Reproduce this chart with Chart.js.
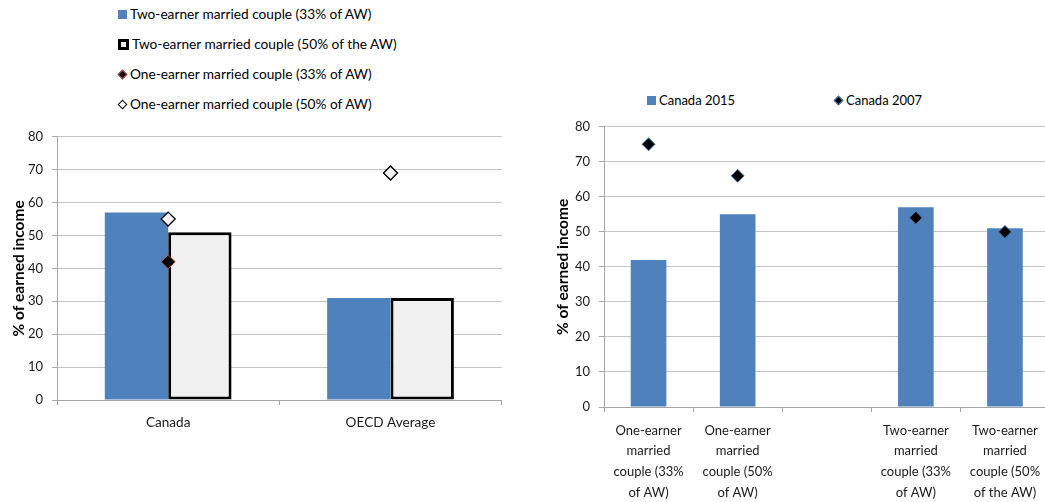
<!DOCTYPE html>
<html>
<head>
<meta charset="utf-8">
<script src="https://cdn.jsdelivr.net/npm/chart.js@4.4.1/dist/chart.umd.min.js"></script>
<style>
  body { margin: 0; width: 1045px; height: 502px; overflow: hidden; position: relative; background: #fff; font-family: Lato, sans-serif; color: #000; }
  canvas { position: absolute; }
  #left { left: 0; top: 120px; }
  #right { left: 540px; top: 110px; }
  .legend-item { position: absolute; white-space: nowrap; font-size: 13px; line-height: 16px; height: 16px; }
  .legend-item.wide { font-size: 13.7px; }
  .mk { display: inline-block; vertical-align: middle; margin-right: 3px; box-sizing: border-box; position: relative; top: -1px; }
  .mk-blue { width: 9px; height: 9px; background: #4f81bd; }
  .mk-outline { width: 11px; height: 11px; background: #f0f0f0; border: 3px solid #000; }
  .mk-dark { width: 7px; height: 7px; background: #000; border: 1px solid #c0504d; transform: rotate(45deg); margin-left: 1px; margin-right: 4px; }
  .mk-light { width: 7px; height: 7px; background: #fff; border: 1.3px solid #000; transform: rotate(45deg); margin-left: 1px; margin-right: 4px; }
  .mk-black { width: 7px; height: 7px; background: #000; border: 1px solid #4f81bd; transform: rotate(45deg); margin-left: 1px; margin-right: 4px; }
</style>
</head>
<body>
<canvas id="left" width="510" height="320"></canvas>
<canvas id="right" width="517" height="392"></canvas>
<script>
// left panel: Canada vs OECD average
const leftCategories = ['Canada', 'OECD Average'];
const leftSeries = [
  'Two-earner married couple (33% of AW)',
  'Two-earner married couple (50% of the AW)',
  'One-earner married couple (33% of AW)',
  'One-earner married couple (50% of AW)'
];
const twoEarner33 = [57, 31];
const twoEarner50 = [51, 31];
const oneEarner33 = [42, 69];
const oneEarner50 = [55, 69];

// right panel: Canada 2015 vs 2007
const rightCategories = [
  ['One-earner', 'married', 'couple (33%', 'of AW)'],
  ['One-earner', 'married', 'couple (50%', 'of AW)'],
  '',
  ['Two-earner', 'married', 'couple (33%', 'of AW)'],
  ['Two-earner', 'married', 'couple (50%', 'of the AW)']
];
const rightSeries = ['Canada 2015', 'Canada 2007'];
const canada2015 = [42, 55, null, 57, 51];
const canada2007 = [75, 66, null, 54, 50];

const yTicks = [0, 10, 20, 30, 40, 50, 60, 70, 80];
const yTitle = '% of earned income';

const BLUE = '#4f81bd';
const GRID = '#c4c4c4';
const AXIS = '#a6a6a6';

Chart.defaults.font.family = 'Lato, sans-serif';
Chart.defaults.font.size = 13;
Chart.defaults.color = '#1a1a1a';

function yScale(titlePad, width) {
  return {
    min: 0,
    max: 80,
    afterBuildTicks: axis => { axis.ticks = yTicks.map(v => ({ value: v })); },
    ticks: { padding: 9 },
    grid: { color: GRID, tickLength: 5, tickColor: AXIS },
    border: { color: AXIS },
    title: {
      display: true,
      text: yTitle,
      color: '#000',
      font: { weight: 'bold', size: 15.5 },
      padding: { top: titlePad, bottom: 0 }
    },
    afterFit: axis => { axis.width = width; }
  };
}

function xScale(height, pad, size, lineHeight) {
  return {
    grid: { drawOnChartArea: false, drawTicks: true, tickLength: 5, color: AXIS },
    border: { color: AXIS },
    ticks: { padding: pad, maxRotation: 0, autoSkip: false, font: { size: size, lineHeight: lineHeight } },
    afterFit: axis => { axis.height = height; }
  };
}

const common = {
  responsive: false,
  animation: false,
  events: [],
  plugins: { legend: { display: false }, tooltip: { enabled: false } }
};

new Chart(document.getElementById('left'), {
  type: 'bar',
  data: {
    labels: leftCategories,
    datasets: [
      {
        type: 'line', label: leftSeries[3], data: oneEarner50, showLine: false,
        pointStyle: 'rectRot', pointRadius: 7,
        pointBackgroundColor: '#f2f2f2', pointBorderColor: '#000', pointBorderWidth: 1.3,
        order: 0
      },
      {
        type: 'line', label: leftSeries[2], data: oneEarner33, showLine: false,
        pointStyle: 'rectRot', pointRadius: 7,
        pointBackgroundColor: '#000', pointBorderColor: '#c0504d', pointBorderWidth: 1,
        order: 1
      },
      {
        label: leftSeries[0], data: twoEarner33, backgroundColor: BLUE,
        categoryPercentage: 0.57, barPercentage: 1, order: 2
      },
      {
        label: leftSeries[1], data: twoEarner50, backgroundColor: '#f0f0f0',
        borderColor: '#000', borderWidth: 3, borderSkipped: false,
        categoryPercentage: 0.57, barPercentage: 1, order: 2
      }
    ]
  },
  options: {
    ...common,
    layout: { padding: { top: 14, right: 2, left: 0, bottom: 0 } },
    scales: { x: xScale(40, 9, 13.6, 1.2), y: yScale(10, 57) }
  }
});

new Chart(document.getElementById('right'), {
  type: 'bar',
  data: {
    labels: rightCategories,
    datasets: [
      {
        type: 'line', label: rightSeries[1], data: canada2007, showLine: false,
        pointStyle: 'rectRot', pointRadius: 6.5,
        pointBackgroundColor: '#000', pointBorderColor: BLUE, pointBorderWidth: 1,
        order: 0
      },
      {
        label: rightSeries[0], data: canada2015, backgroundColor: BLUE,
        categoryPercentage: 0.4, barPercentage: 1, order: 1
      }
    ]
  },
  options: {
    ...common,
    layout: { padding: { top: 16, right: 2, left: 0, bottom: 0 } },
    scales: { x: xScale(95, 8, 13, 1.6), y: yScale(13.7, 64) }
  }
});

// legends
function addLegend(text, cls, x, y, wide) {
  const el = document.createElement('div');
  el.className = 'legend-item' + (wide ? ' wide' : '');
  el.style.left = x + 'px';
  el.style.top = (y - 8) + 'px';
  const mk = document.createElement('span');
  mk.className = 'mk ' + cls;
  el.appendChild(mk);
  el.appendChild(document.createTextNode(text));
  document.body.appendChild(el);
}

const leftMarkers = ['mk-blue', 'mk-outline', 'mk-dark', 'mk-light'];
leftSeries.forEach((s, i) => addLegend(s, leftMarkers[i], 118, 14 + i * 30, true));
addLegend(rightSeries[0], 'mk-blue', 647, 100);
addLegend(rightSeries[1], 'mk-black', 834, 100);
</script>
</body>
</html>
